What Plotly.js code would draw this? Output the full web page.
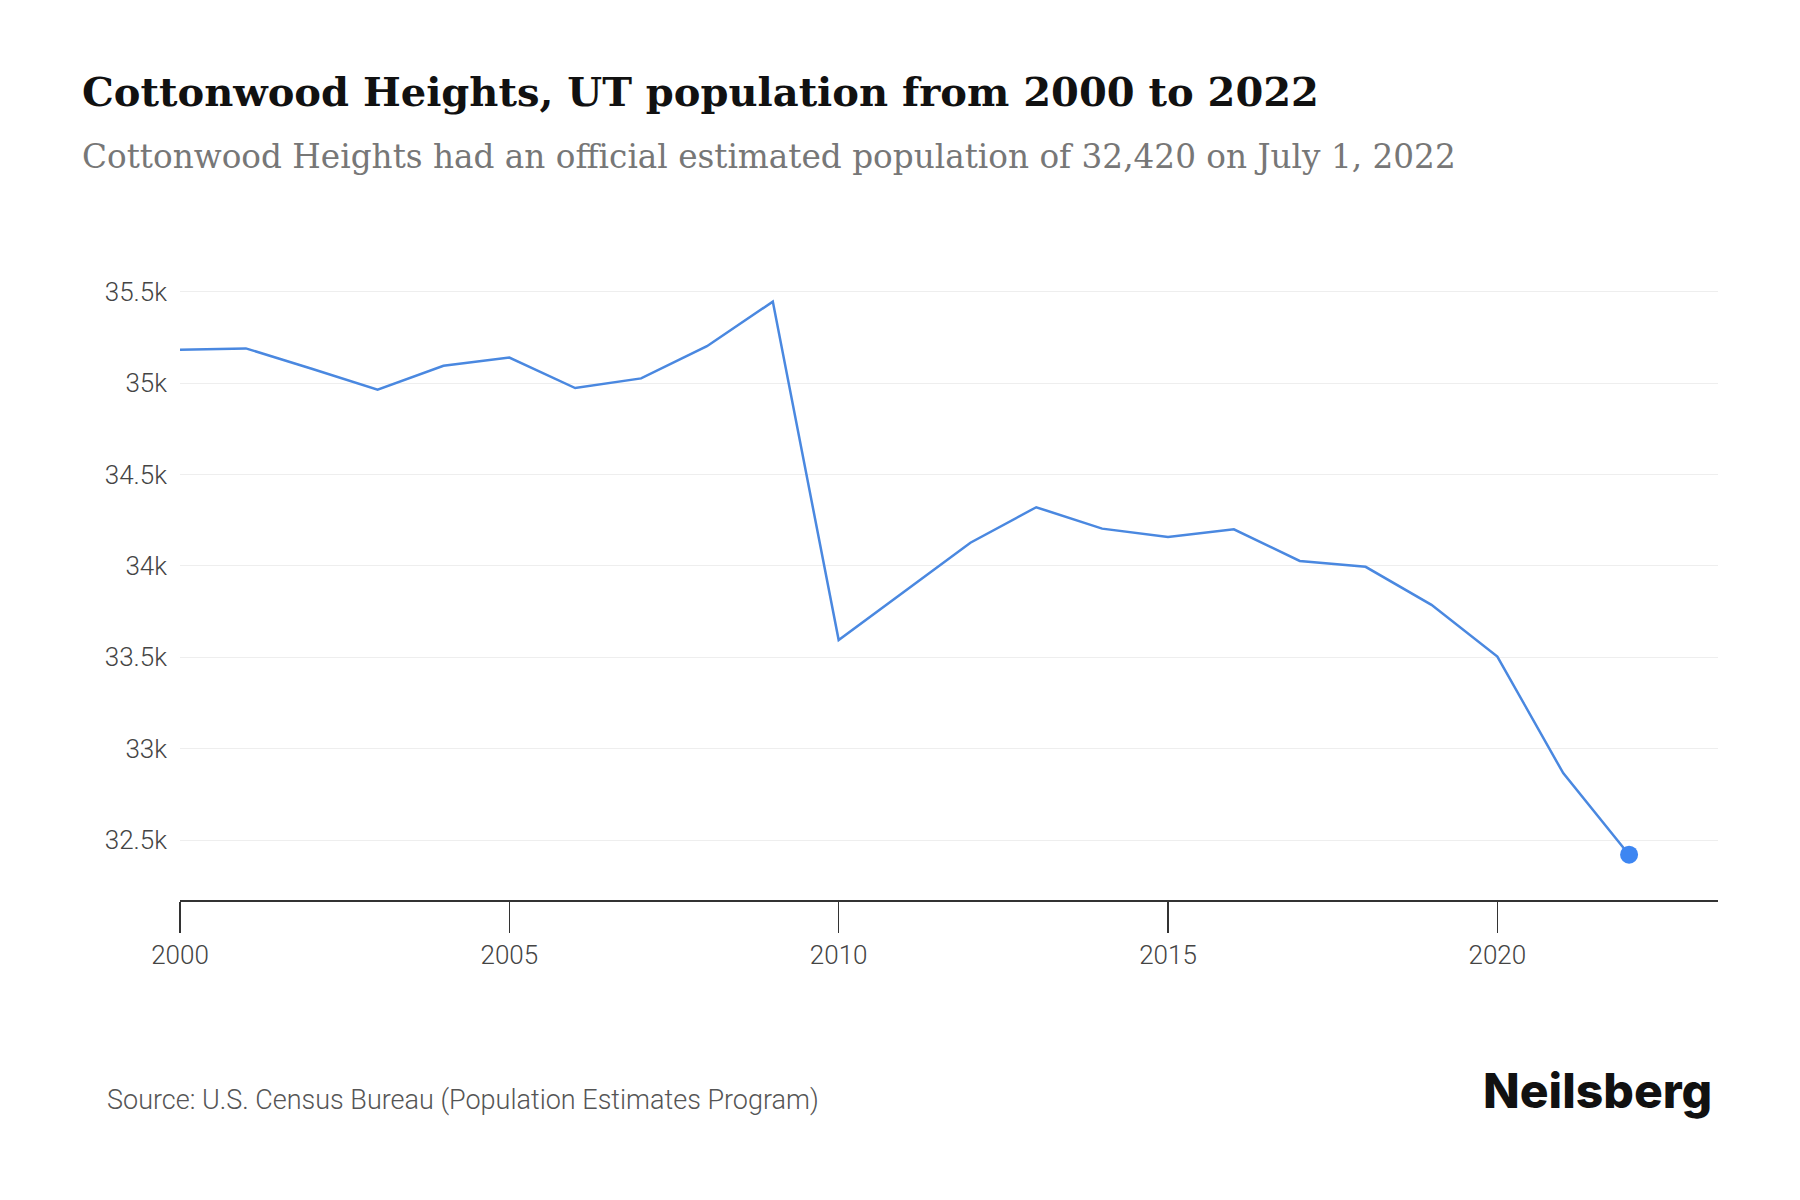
<!DOCTYPE html>
<html>
<head>
<meta charset="utf-8">
<script src="https://cdn.plot.ly/plotly-3.0.1.min.js"></script>
<style>
  html, body { margin: 0; padding: 0; background: #fff; }
  #chart { width: 1800px; height: 1200px; }
</style>
</head>
<body>
<div id="chart"></div>
<script>
// Cottonwood Heights, UT annual population estimates
const years = [2000, 2001, 2002, 2003, 2004, 2005, 2006, 2007, 2008, 2009, 2010,
               2011, 2012, 2013, 2014, 2015, 2016, 2017, 2018, 2019, 2020, 2021, 2022];
const population = [35182, 35190, 35079, 34964, 35095, 35140, 34973, 35026, 35202, 35446, 33594,
                    33863, 34127, 34321, 34204, 34158, 34200, 34027, 33995, 33787, 33504, 32866, 32420];

const yTickValues = [32500, 33000, 33500, 34000, 34500, 35000, 35500];
const yTickLabels = ['32.5k', '33k', '33.5k', '34k', '34.5k', '35k', '35.5k'];
const xTickValues = [2000, 2005, 2010, 2015, 2020];
const xTickLabels = ['2000', '2005', '2010', '2015', '2020'];

const titleText = 'Cottonwood Heights, UT population from 2000 to 2022';
const subtitleText = 'Cottonwood Heights had an official estimated population of 32,420 on July 1, 2022';
const sourceText = 'Source: U.S. Census Bureau (Population Estimates Program)';
const brandText = 'Neilsberg';

const lastYear = years[years.length - 1];
const lastValue = population[population.length - 1];

// plot area in pixels, used to place the page texts
const plotLeft = 180, plotWidth = 1538, plotBottom = 900, plotHeight = 630;
const px = (x) => (x - plotLeft) / plotWidth;
const py = (y) => (plotBottom - y) / plotHeight;

const traces = [
  {
    x: years,
    y: population,
    type: 'scatter',
    mode: 'lines',
    line: { color: '#4a88e0', width: 2.5 },
    hoverinfo: 'x+y'
  },
  {
    x: [lastYear],
    y: [lastValue],
    type: 'scatter',
    mode: 'markers',
    marker: { color: '#3d86f2', size: 18 },
    hoverinfo: 'x+y'
  }
];

const layout = {
  width: 1800,
  height: 1200,
  paper_bgcolor: '#ffffff',
  plot_bgcolor: '#ffffff',
  showlegend: false,
  margin: { l: 180, r: 82, t: 270, b: 300 },
  font: { family: 'Roboto, sans-serif', color: '#444' },
  xaxis: {
    range: [2000, 2023.35],
    tickvals: xTickValues,
    ticktext: xTickLabels,
    ticks: 'outside',
    ticklen: 31,
    tickwidth: 1.5,
    tickcolor: '#333',
    showline: true,
    linecolor: '#333',
    linewidth: 1.5,
    showgrid: false,
    zeroline: false,
    tickfont: { family: 'Roboto, sans-serif', size: 26, color: '#444', weight: 300 },
    fixedrange: true
  },
  yaxis: {
    range: [32172, 35619],
    tickvals: yTickValues,
    ticktext: yTickLabels,
    ticks: '',
    showline: false,
    showgrid: true,
    gridcolor: '#eeeeee',
    gridwidth: 1,
    zeroline: false,
    ticklabelstandoff: 12,
    tickfont: { family: 'Roboto, sans-serif', size: 26, color: '#444', weight: 300 },
    fixedrange: true
  },
  annotations: [
    {
      xref: 'paper', yref: 'paper',
      x: px(80), y: py(92),
      xanchor: 'left', yanchor: 'middle', showarrow: false,
      text: '<b>' + titleText + '</b>',
      font: { family: 'DejaVu Serif, serif', size: 40, color: '#111' }
    },
    {
      xref: 'paper', yref: 'paper',
      x: px(80), y: py(157),
      xanchor: 'left', yanchor: 'middle', showarrow: false,
      text: subtitleText,
      font: { family: 'DejaVu Serif, serif', size: 32.7, color: '#777' }
    },
    {
      xref: 'paper', yref: 'paper',
      x: px(105), y: py(1100),
      xanchor: 'left', yanchor: 'middle', showarrow: false,
      text: sourceText,
      font: { family: 'Roboto, sans-serif', size: 27, color: '#555', weight: 300 }
    },
    {
      xref: 'paper', yref: 'paper',
      x: px(1714), y: py(1090),
      xanchor: 'right', yanchor: 'middle', showarrow: false,
      text: brandText,
      font: { family: 'Inter, Roboto, sans-serif', size: 48, color: '#111', weight: 800 }
    }
  ]
};

Plotly.newPlot('chart', traces, layout, { displayModeBar: false, staticPlot: true });
</script>
</body>
</html>
